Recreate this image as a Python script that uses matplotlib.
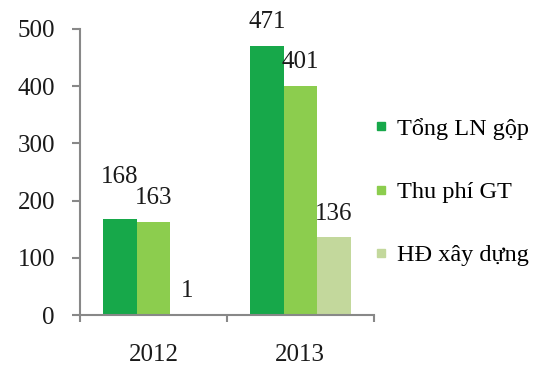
import matplotlib.pyplot as plt
from matplotlib.lines import Line2D

years = ['2012', '2013']
series = ['Tổng LN gộp', 'Thu phí GT', 'HĐ xây dựng']
values = [
    [168, 471],
    [163, 401],
    [1, 136],
]
colors = ['#17a84a', '#8ccd4e', '#c3d89c']
# extra lift for labels that would otherwise collide
label_lift = [[30, 17], [17, 17], [17, 17]]

plt.rcParams['font.family'] = ['Liberation Serif', 'DejaVu Serif']

fig = plt.figure(figsize=(5.42, 3.66), dpi=100)
ax = fig.add_axes([0.1476, 0.139, 0.542, 0.782])

width = 0.228
centers = [0.5, 1.5]
for i, (name, vals) in enumerate(zip(series, values)):
    xs = [c + (i - 1) * width for c in centers]
    ax.bar(xs, vals, width=width, color=colors[i], label=name)
    for x, v, lift in zip(xs, vals, label_lift[i]):
        ax.annotate(str(v), (x, v), xytext=(0, lift), textcoords='offset points',
                    ha='center', va='center', fontsize=18, color='#1a1a1a')

ax.set_xlim(0, 2)
ax.set_ylim(0, 500)
ax.set_yticks(range(0, 501, 100))
ax.set_xticks(centers)
ax.set_xticklabels(years)
ax.set_xticks([0, 1, 2], minor=True)

axis_grey = '#888888'
for side in ['top', 'right']:
    ax.spines[side].set_visible(False)
for side in ['left', 'bottom']:
    ax.spines[side].set_color(axis_grey)
    ax.spines[side].set_linewidth(1.5)

ax.tick_params(axis='y', direction='out', length=6, width=1.5, color=axis_grey,
               labelsize=18, pad=12, labelcolor='#1a1a1a')
ax.tick_params(axis='x', which='major', length=0, labelsize=18, pad=21,
               labelcolor='#1a1a1a')
ax.tick_params(axis='x', which='minor', direction='out', length=5, width=1.5,
               color=axis_grey)

handles = [Line2D([], [], marker='s', linestyle='none', markersize=6,
                  markerfacecolor=c, markeredgecolor=c) for c in colors]
fig.legend(handles, series, loc='center left', bbox_to_anchor=(0.685, 0.475),
           frameon=False, fontsize=17.5, labelspacing=1.7, handletextpad=0.25,
           handlelength=0.8, borderpad=0, borderaxespad=0)

fig.savefig('out.png', dpi=100)
